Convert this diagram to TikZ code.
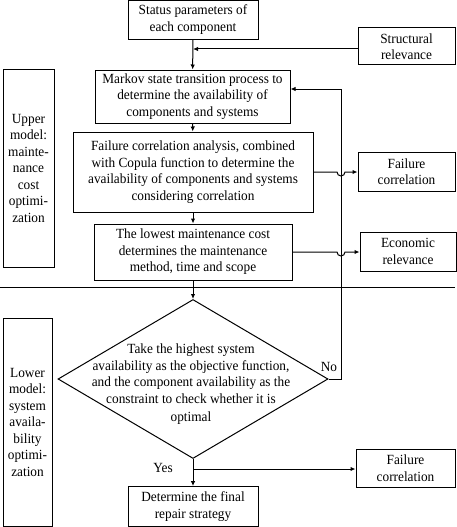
\documentclass[tikz,border=0pt]{standalone}
\usepackage{fontspec}
\setmainfont{Liberation Serif}[FakeStretch=0.95]
\usetikzlibrary{shapes.geometric,arrows.meta}
\begin{document}
\begin{tikzpicture}[x=1pt,y=-1pt,
  box/.style={draw, line width=1pt, align=center, inner sep=0pt, font=\fontsize{14}{16.5}\selectfont},
  lbl/.style={align=center, inner sep=0pt, font=\fontsize{14}{16.5}\selectfont},
  arr/.style={-{Latex[length=5pt,width=4.5pt]}, line width=1pt},
  ln/.style={line width=1pt}]
\useasboundingbox (0,0) rectangle (457,527);
\node[box, minimum width=130, minimum height=39] (status) at (193,19.8) {Status parameters of\\each component};
\node[box, minimum width=97, minimum height=37] (struct) at (406.5,46.5) {Structural\\relevance};
\node[box, minimum width=195, minimum height=53] (markov) at (192.5,96.5) {Markov state transition process to\\determine the availability of\\components and systems};
\node[box, minimum width=240, minimum height=80] (copula) at (193,172) {Failure correlation analysis, combined\\with Copula function to determine the\\availability of components and systems\\considering correlation};
\node[box, minimum width=97, minimum height=39] (fail1) at (406.5,171.5) {Failure\\correlation};
\node[box, minimum width=198, minimum height=56] (lowest) at (193,252) {The lowest maintenance cost\\determines the maintenance\\method, time and scope};
\node[box, minimum width=96, minimum height=39] (econ) at (408,251.5) {Economic\\relevance};
\node[box, minimum width=51, minimum height=198] (upper) at (28.5,168) {Upper\\model:\\mainte-\\nance\\cost\\optimi-\\zation};
\node[box, minimum width=49, minimum height=208] (lower) at (27.5,422) {Lower\\model:\\system\\availa-\\bility\\optimi-\\zation};
\node[draw, line width=1pt, diamond, minimum width=270, minimum height=159, inner sep=0pt] (dec) at (193,379) {};
\node[lbl] (dtext) at (191,384) {Take the highest system\\availability as the objective function,\\and the component availability as the\\constraint to check whether it is\\[1.5pt]optimal};
\node[box, minimum width=130, minimum height=40] (final) at (193,506.6) {Determine the final\\repair strategy};
\node[box, minimum width=99, minimum height=38] (fail2) at (405.5,468) {Failure\\correlation};
\node[lbl] (no) at (329,367) {No};
\node[lbl] (yes) at (163,468) {Yes};
\coordinate (sj) at (193,49);
\coordinate (fb) at (341,89);
\coordinate (yj) at (193,469);
\coordinate (hl) at (0,287);
\coordinate (hr) at (455,287);
% main flow
\draw[arr] (status) -- (markov);
\draw[arr] (struct.west |- sj) -- (sj);
\draw[arr] (markov) -- (copula);
\draw[arr] (copula) -- (lowest);
\draw[arr] (lowest) -- (dec.north);
\draw[ln] (hl) -- (hr);
% feedback
\draw[arr] (dec.east) -| (fb) -- (markov.east |- fb);
% side arrows with jumps
\draw[arr] (copula.east |- 0,172) -- (337,172) arc[start angle=180, end angle=0, radius=4] -- (fail1.west |- 0,172);
\draw[arr] (lowest.east |- 0,252) -- (337,252) arc[start angle=180, end angle=0, radius=4] -- (econ.west |- 0,252);
% yes
\draw[arr] (dec.south) -- (final.north);
\draw[arr] (yj) -- (fail2.west |- yj);
\end{tikzpicture}
\end{document}
